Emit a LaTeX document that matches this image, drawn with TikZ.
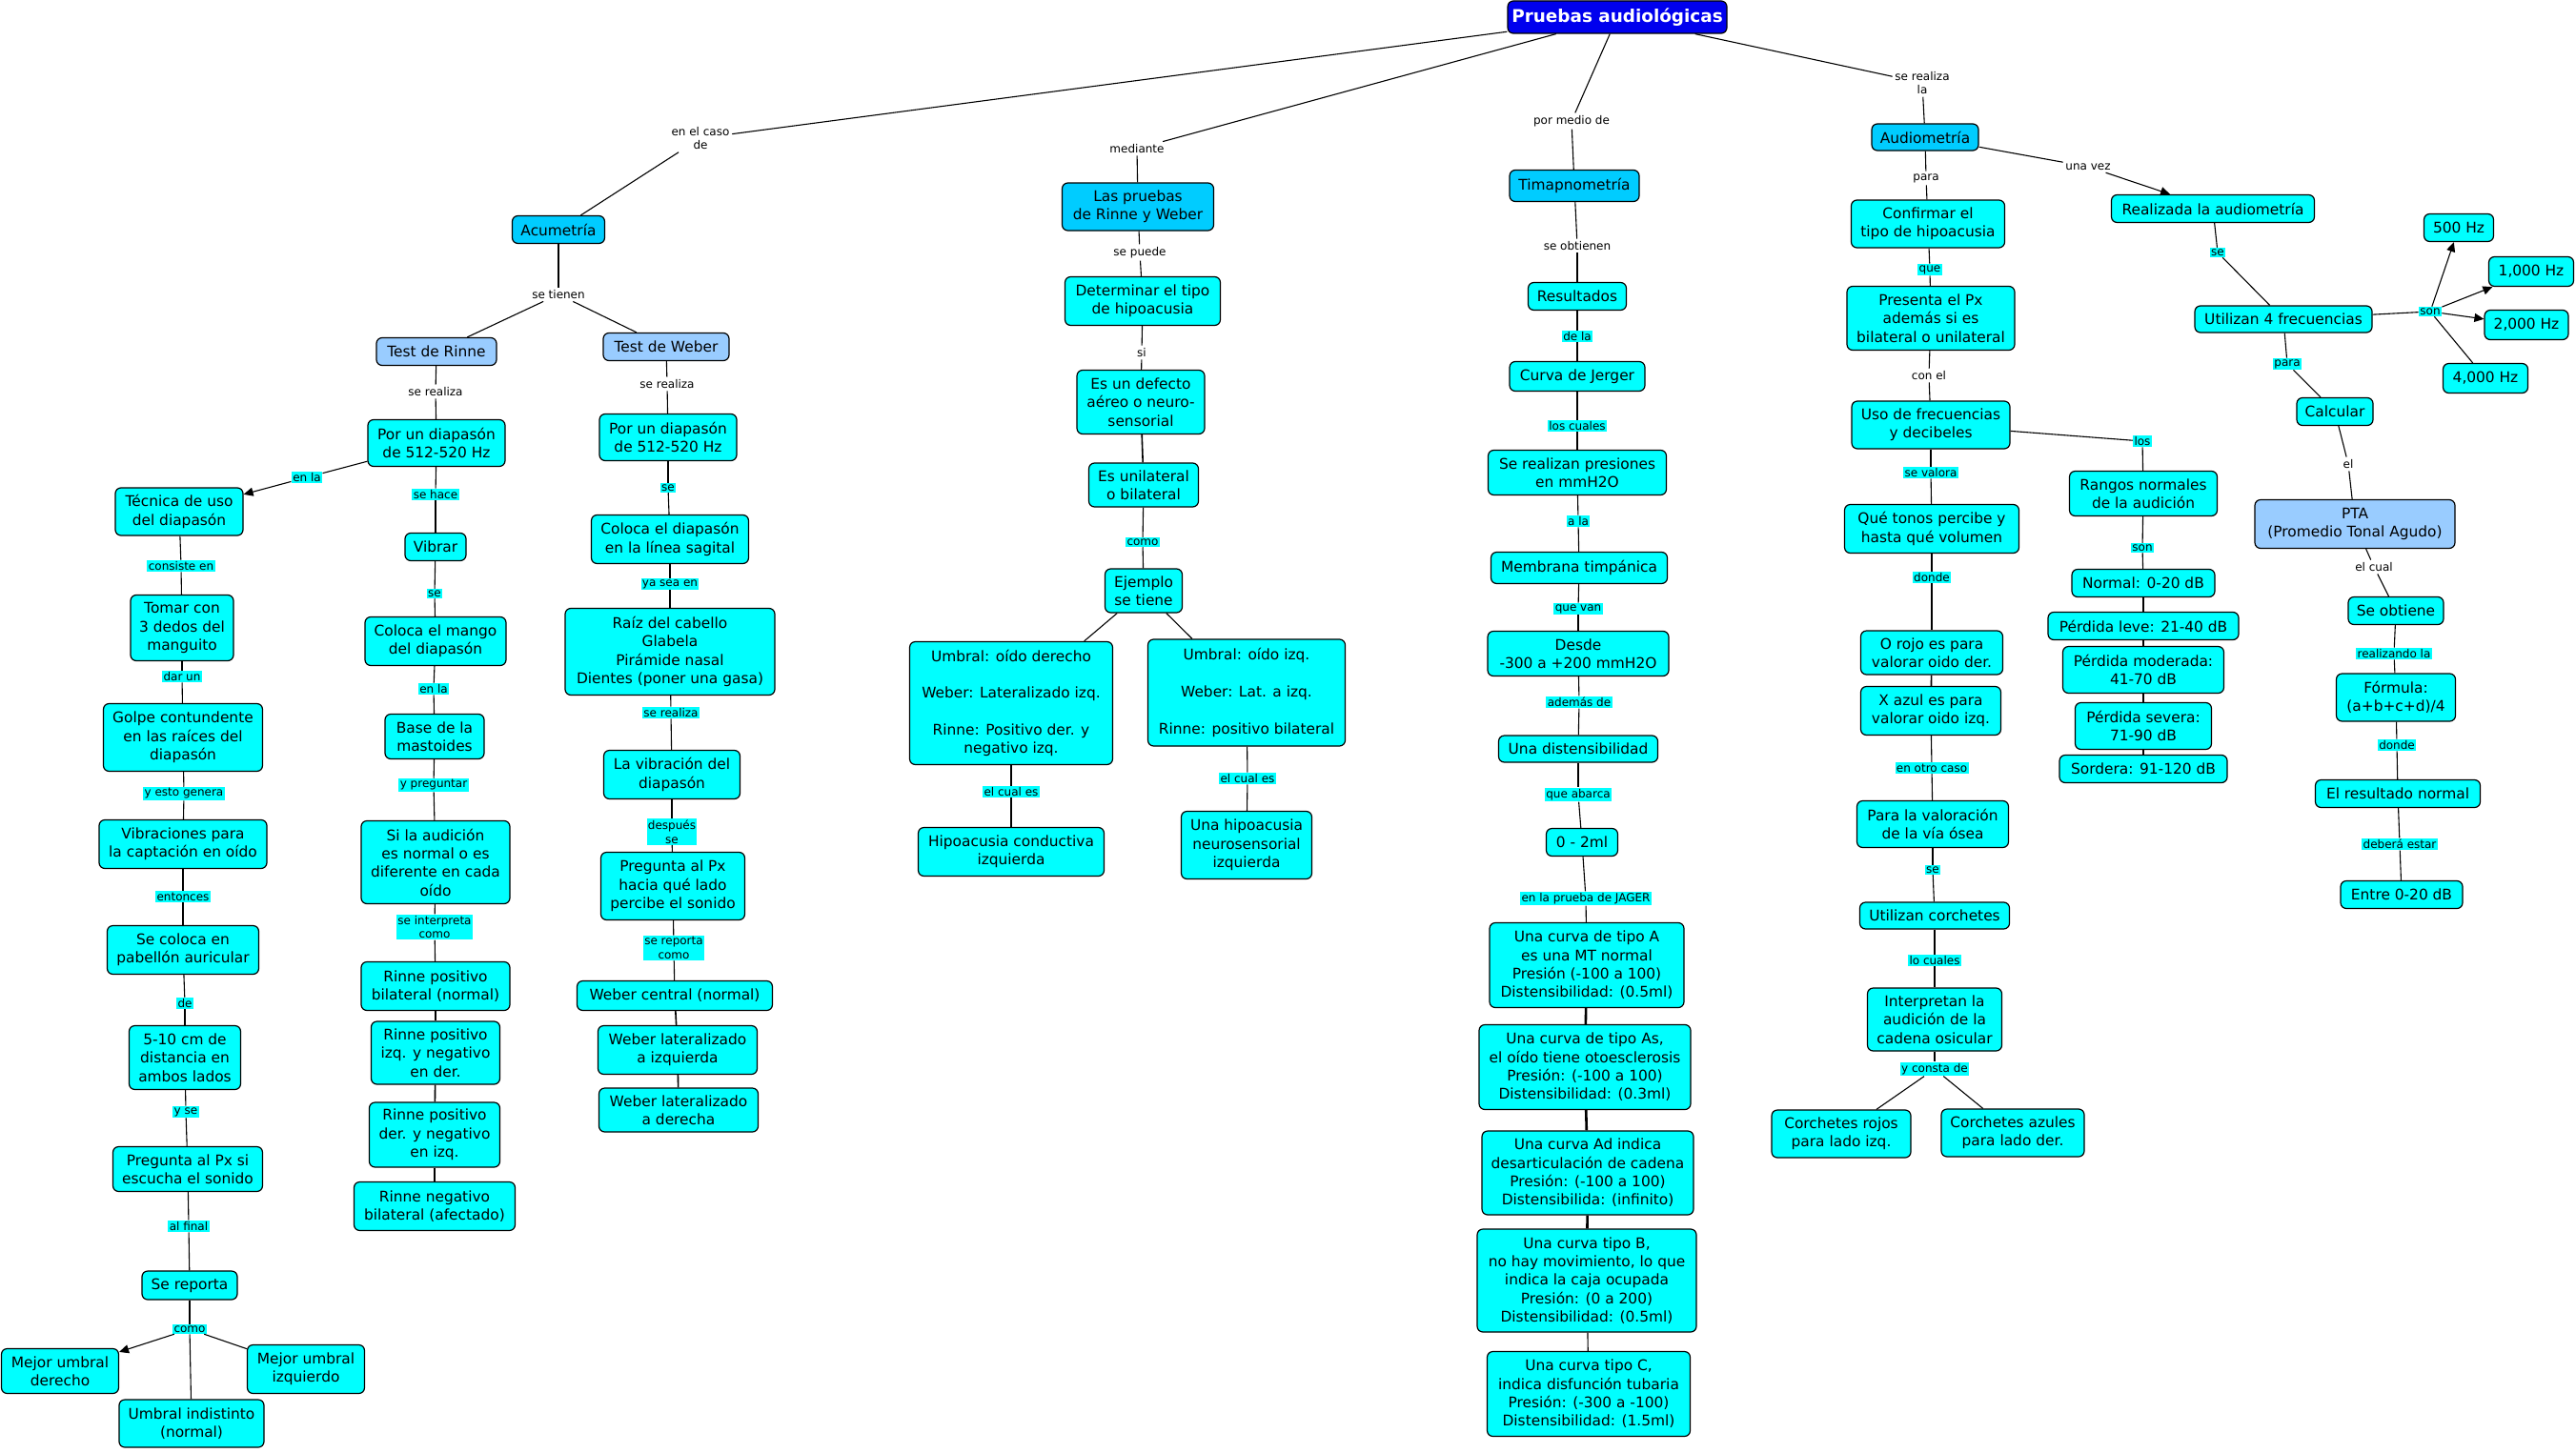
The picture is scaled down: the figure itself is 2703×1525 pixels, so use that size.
\documentclass[tikz,border=0pt]{standalone}
\usepackage{fontspec}
\setmainfont{DejaVu Sans}
\usetikzlibrary{arrows.meta}
\definecolor{cy}{HTML}{00FFFF}
\definecolor{midb}{HTML}{00CCFF}
\definecolor{lb}{HTML}{99CCFF}
\definecolor{topb}{HTML}{0000EE}
\newcommand\nfnt{\fontsize{7.7}{9.65}\selectfont}
\newcommand\lfnt{\fontsize{6}{7.3}\selectfont}
\newcommand\tfnt{\fontsize{9.2}{11}\selectfont}
\begin{document}
\begin{tikzpicture}[x=0.5pt,y=-0.5pt,
  cbox/.style={draw=black, line width=0.6pt, rounded corners=3pt, fill=cy, align=center, inner sep=0pt, font=\nfnt},
  sz/.style 2 args={minimum width=#1*0.5pt, minimum height=#2*0.5pt},
  midbox/.style={cbox, fill=midb},
  lbbox/.style={cbox, fill=lb},
  topbox/.style={cbox, fill=topb, text=white, font={\tfnt\bfseries}},
  lab/.style={font=\lfnt, align=center, inner sep=1.2pt, fill=white},
  hlab/.style={font=\lfnt, align=center, inner sep=0.7pt, fill=cy},
  conn/.style={line width=0.55pt},
  stk/.style={line width=0.8pt},
  thk/.style={line width=1.3pt},
  arr/.style={conn, -{Triangle[length=5pt,width=4.5pt]}}
]
\fill[white] (0,0) rectangle (2703,1525);
\useasboundingbox (0,0) rectangle (2703,1525);

% ---------- top ----------
\node[topbox,sz={230}{34}] (P) at (1697,18) {Pruebas audiológicas};
\node[lab] (l1) at (735,145) {en el caso\\de};
\node[lab] (l2) at (1193,156) {mediante};
\node[lab] (l3) at (1649,127) {por medio de};
\node[lab] (l4) at (2017,87) {se realiza\\la};

\node[midbox,sz={97}{29}] (Acu) at (586,241) {Acumetría};
\node[midbox,sz={159}{50}] (LRW) at (1194,217) {Las pruebas\\de Rinne y Weber};
\node[midbox,sz={136}{33}] (Tim) at (1652,195) {Timapnometría};
\node[midbox,sz={112}{28}] (Aud) at (2020,144) {Audiometría};

\draw[conn] (P) -- (l1); \draw[conn] (l1) -- (Acu);
\draw[conn] (P) -- (l2); \draw[conn] (l2) -- (LRW);
\draw[conn] (P) -- (l3); \draw[conn] (l3) -- (Tim);
\draw[conn] (P) -- (l4); \draw[conn] (l4) -- (Aud);

% ---------- Acumetria ----------
\node[lab] (lst) at (586,309) {se tienen};
\node[lbbox,sz={126}{29}] (TR) at (458,369) {Test de Rinne};
\node[lbbox,sz={132}{29}] (TW) at (699,364) {Test de Weber};
\draw[conn] (Acu) -- (lst); \draw[conn] (lst) -- (TR); \draw[conn] (lst) -- (TW);

\node[lab] (lsr1) at (457,411) {se realiza};
\node[cbox,sz={144}{49}] (R1) at (458,465) {Por un diapasón\\de 512-520 Hz};
\draw[conn] (TR) -- (lsr1); \draw[conn] (lsr1) -- (R1);

\node[lab] (lsr2) at (700,403) {se realiza};
\node[cbox,sz={144}{49}] (W1) at (701,459) {Por un diapasón\\de 512-520 Hz};
\draw[conn] (TW) -- (lsr2); \draw[conn] (lsr2) -- (W1);

% Rinne -> Tecnica
\node[hlab] (lenla) at (322,501) {en la};
\node[cbox,sz={134}{50}] (Tec) at (188,537) {Técnica de uso\\del diapasón};
\draw[conn] (R1) -- (lenla); \draw[arr] (lenla) -- (Tec);

\node[hlab] (lcons) at (190,594) {consiste en};
\node[cbox,sz={108}{69}] (Tom) at (191,659) {Tomar con\\3 dedos del\\manguito};
\draw[conn] (Tec) -- (lcons); \draw[conn] (lcons) -- (Tom);

\node[hlab] (ldar) at (191,710) {dar un};
\node[cbox,sz={167}{71}] (Gol) at (192,774) {Golpe contundente\\en las raíces del\\diapasón};
\draw[conn] (Tom) -- (ldar); \draw[conn] (ldar) -- (Gol);

\node[hlab] (lesto) at (193,833) {y esto genera};
\node[cbox,sz={176}{51}] (Vibr) at (192,886) {Vibraciones para\\la captación en oído};
\draw[conn] (Gol) -- (lesto); \draw[conn] (lesto) -- (Vibr);

\node[hlab] (lent) at (192,941) {entonces};
\node[cbox,sz={159}{51}] (SeC) at (192,997) {Se coloca en\\pabellón auricular};
\draw[conn] (Vibr) -- (lent); \draw[conn] (lent) -- (SeC);

\node[hlab] (lde) at (194,1053) {de};
\node[cbox,sz={117}{67}] (Cm) at (194,1110) {5-10 cm de\\distancia en\\ambos lados};
\draw[conn] (SeC) -- (lde); \draw[conn] (lde) -- (Cm);

\node[hlab] (lyse) at (195,1167) {y se};
\node[cbox,sz={157}{47}] (Preg) at (197,1227) {Pregunta al Px si\\escucha el sonido};
\draw[conn] (Cm) -- (lyse); \draw[conn] (lyse) -- (Preg);

\node[hlab] (lfin) at (198,1287) {al final};
\node[cbox,sz={100}{30}] (SeR) at (199,1349) {Se reporta};
\draw[conn] (Preg) -- (lfin); \draw[conn] (lfin) -- (SeR);

\node[hlab] (lcomo1) at (199,1395) {como};
\node[cbox,sz={123}{47}] (MUD) at (63,1439) {Mejor umbral\\derecho};
\node[cbox,sz={123}{51}] (MUI) at (321,1437) {Mejor umbral\\izquierdo};
\node[cbox,sz={152}{50}] (UIn) at (201,1494) {Umbral indistinto\\(normal)};
\draw[conn] (SeR) -- (lcomo1);
\draw[arr] (lcomo1) -- (MUD);
\draw[conn] (lcomo1) -- (MUI);
\draw[conn] (lcomo1) -- (UIn);

% Rinne -> Vibrar
\node[hlab] (lhace) at (457,519) {se hace};
\node[cbox,sz={64}{29}] (Vib) at (457,574) {Vibrar};
\draw[conn] (R1) -- (lhace); \draw[conn] (lhace) -- (Vib);

\node[hlab] (lse1) at (456,623) {se};
\node[cbox,sz={148}{51}] (CM) at (457,673) {Coloca el mango\\del diapasón};
\draw[conn] (Vib) -- (lse1); \draw[conn] (lse1) -- (CM);

\node[hlab] (lenla2) at (455,723) {en la};
\node[cbox,sz={104}{47}] (BM) at (456,773) {Base de la\\mastoides};
\draw[conn] (CM) -- (lenla2); \draw[conn] (lenla2) -- (BM);

\node[hlab] (lypreg) at (455,824) {y preguntar};
\node[cbox,sz={156}{87}] (SiA) at (457,905) {Si la audición\\es normal o es\\diferente en cada\\oído};
\draw[conn] (BM) -- (lypreg); \draw[conn] (lypreg) -- (SiA);

\node[hlab] (linterp) at (456,973) {se interpreta\\como};
\node[cbox,sz={156}{51}] (RP1) at (457,1035) {Rinne positivo\\bilateral (normal)};
\node[cbox,sz={135}{66}] (RP2) at (457,1105) {Rinne positivo\\izq. y negativo\\en der.};
\node[cbox,sz={137}{68}] (RP3) at (456,1191) {Rinne positivo\\der. y negativo\\en izq.};
\node[cbox,sz={169}{51}] (RP4) at (456,1266) {Rinne negativo\\bilateral (afectado)};
\draw[conn] (SiA) -- (linterp); \draw[conn] (linterp) -- (RP1);
\draw[stk] (RP1) -- (RP2); \draw[stk] (RP2) -- (RP3); \draw[stk] (RP3) -- (RP4);

% Weber
\node[hlab] (lse2) at (701,512) {se};
\node[cbox,sz={165}{51}] (CD) at (703,566) {Coloca el diapasón\\en la línea sagital};
\draw[conn] (W1) -- (lse2); \draw[conn] (lse2) -- (CD);

\node[hlab] (lyasea) at (703,613) {ya sea en};
\node[cbox,sz={220}{91}] (Raiz) at (703,684) {Raíz del cabello\\Glabela\\Pirámide nasal\\Dientes (poner una gasa)};
\draw[conn] (CD) -- (lyasea); \draw[conn] (lyasea) -- (Raiz);

\node[hlab] (lsr3) at (704,748) {se realiza};
\node[cbox,sz={143}{51}] (LV) at (705,813) {La vibración del\\diapasón};
\draw[conn] (Raiz) -- (lsr3); \draw[conn] (lsr3) -- (LV);

\node[hlab] (ldesp) at (705,873) {después\\se};
\node[cbox,sz={151}{71}] (PH) at (706,930) {Pregunta al Px\\hacia qué lado\\percibe el sonido};
\draw[conn] (LV) -- (ldesp); \draw[conn] (ldesp) -- (PH);

\node[hlab] (lrep) at (707,995) {se reporta\\como};
\node[cbox,sz={205}{31}] (WC) at (708,1045) {Weber central (normal)};
\node[cbox,sz={167}{51}] (WLI) at (711,1102) {Weber lateralizado\\a izquierda};
\node[cbox,sz={167}{46}] (WLD) at (712,1165) {Weber lateralizado\\a derecha};
\draw[conn] (PH) -- (lrep); \draw[conn] (lrep) -- (WC);
\draw[stk] (WC) -- (WLI); \draw[stk] (WLI) -- (WLD);

% ---------- Las pruebas de Rinne y Weber ----------
\node[lab] (lpuede) at (1196,265) {se puede};
\node[cbox,sz={163}{51}] (Det) at (1199,316) {Determinar el tipo\\de hipoacusia};
\draw[conn] (LRW) -- (lpuede); \draw[conn] (lpuede) -- (Det);

\node[lab] (lsi) at (1198,370) {si};
\node[cbox,sz={134}{67}] (Def) at (1197,422) {Es un defecto\\aéreo o neuro-\\sensorial};
\draw[conn] (Det) -- (lsi); \draw[conn] (lsi) -- (Def);

\node[cbox,sz={115}{46}] (Uni) at (1200,509) {Es unilateral\\o bilateral};
\draw[stk] (Def) -- (Uni);

\node[hlab] (lcomo2) at (1199,569) {como};
\node[cbox,sz={81}{46}] (Ej) at (1200,620) {Ejemplo\\se tiene};
\draw[conn] (Uni) -- (lcomo2); \draw[conn] (lcomo2) -- (Ej);

\node[cbox,sz={213}{129}] (UD) at (1061,738) {Umbral: oído derecho\\[9.65pt]Weber: Lateralizado izq.\\[9.65pt]Rinne: Positivo der. y\\negativo izq.};
\node[cbox,sz={207}{112}] (UIz) at (1308,727) {Umbral: oído izq.\\[9.65pt]Weber: Lat. a izq.\\[9.65pt]Rinne: positivo bilateral};
\draw[conn] (Ej) -- (UD); \draw[conn] (Ej) -- (UIz);

\node[hlab] (lcual1) at (1061,831) {el cual es};
\node[cbox,sz={195}{51}] (HC) at (1061,894) {Hipoacusia conductiva\\izquierda};
\draw[conn] (UD) -- (lcual1); \draw[conn] (lcual1) -- (HC);

\node[hlab] (lcual2) at (1309,817) {el cual es};
\node[cbox,sz={137}{71}] (HN) at (1308,887) {Una hipoacusia\\neurosensorial\\izquierda};
\draw[conn] (UIz) -- (lcual2); \draw[conn] (lcual2) -- (HN);

% ---------- Timpanometria ----------
\node[lab] (lobt) at (1655,258) {se obtienen};
\node[cbox,sz={103}{29}] (Res) at (1655,311) {Resultados};
\draw[conn] (Tim) -- (lobt); \draw[conn] (lobt) -- (Res);

\node[hlab] (ldela) at (1655,353) {de la};
\node[cbox,sz={142}{31}] (CJ) at (1655,395) {Curva de Jerger};
\draw[conn] (Res) -- (ldela); \draw[conn] (ldela) -- (CJ);

\node[hlab] (lcuales) at (1655,447) {los cuales};
\node[cbox,sz={187}{47}] (SRP) at (1655,496) {Se realizan presiones\\en mmH2O};
\draw[conn] (CJ) -- (lcuales); \draw[conn] (lcuales) -- (SRP);

\node[hlab] (lala) at (1656,547) {a la};
\node[cbox,sz={185}{33}] (MT) at (1657,596) {Membrana timpánica};
\draw[conn] (SRP) -- (lala); \draw[conn] (lala) -- (MT);

\node[hlab] (lqvan) at (1656,639) {que van};
\node[cbox,sz={190}{47}] (Des) at (1656,686) {Desde\\-300 a +200 mmH2O};
\draw[conn] (MT) -- (lqvan); \draw[conn] (lqvan) -- (Des);

\node[hlab] (lade) at (1657,737) {además de};
\node[cbox,sz={167}{28}] (UDi) at (1656,786) {Una distensibilidad};
\draw[conn] (Des) -- (lade); \draw[conn] (lade) -- (UDi);

\node[hlab] (labar) at (1656,834) {que abarca};
\node[cbox,sz={75}{29}] (Ml) at (1660,884) {0 - 2ml};
\draw[conn] (UDi) -- (labar); \draw[conn] (labar) -- (Ml);

\node[hlab] (ljag) at (1664,943) {en la prueba de JAGER};
\node[cbox,sz={204}{89}] (CA) at (1665,1013) {Una curva de tipo A\\es una MT normal\\Presión (-100 a 100)\\Distensibilidad: (0.5ml)};
\node[cbox,sz={222}{89}] (CAs) at (1663,1120) {Una curva de tipo As,\\el oído tiene otoesclerosis\\Presión: (-100 a 100)\\Distensibilidad: (0.3ml)};
\node[cbox,sz={222}{88}] (CAd) at (1666,1231) {Una curva Ad indica\\desarticulación de cadena\\Presión: (-100 a 100)\\Distensibilida: (infinito)};
\node[cbox,sz={230}{108}] (CB) at (1665,1344) {Una curva tipo B,\\no hay movimiento, lo que\\indica la caja ocupada\\Presión: (0 a 200)\\Distensibilidad: (0.5ml)};
\node[cbox,sz={213}{89}] (CC) at (1667,1463) {Una curva tipo C,\\indica disfunción tubaria\\Presión: (-300 a -100)\\Distensibilidad: (1.5ml)};
\draw[conn] (Ml) -- (ljag); \draw[conn] (ljag) -- (CA);
\draw[thk] (CA) -- (CAs); \draw[thk] (CAs) -- (CAd); \draw[thk] (CAd) -- (CB);
\draw[conn] (CB) -- (CC);

% ---------- Audiometria ----------
\node[lab] (lpara1) at (2021,187) {para};
\node[cbox,sz={161}{50}] (Conf) at (2023,235) {Confirmar el\\tipo de hipoacusia};
\draw[conn] (Aud) -- (lpara1); \draw[conn] (lpara1) -- (Conf);

\node[hlab] (lque) at (2025,283) {que};
\node[cbox,sz={176}{67}] (PEP) at (2026,334) {Presenta el Px\\además si es\\bilateral o unilateral};
\draw[conn] (Conf) -- (lque); \draw[conn] (lque) -- (PEP);

\node[lab] (lconel) at (2024,394) {con el};
\node[cbox,sz={166}{50}] (Uso) at (2026,446) {Uso de frecuencias\\y decibeles};
\draw[conn] (PEP) -- (lconel); \draw[conn] (lconel) -- (Uso);

\node[hlab] (lvalora) at (2026,496) {se valora};
\node[cbox,sz={183}{51}] (QT) at (2027,555) {Qué tonos percibe y\\hasta qué volumen};
\draw[conn] (Uso) -- (lvalora); \draw[conn] (lvalora) -- (QT);

\node[hlab] (ldonde1) at (2027,606) {donde};
\node[cbox,sz={149}{46}] (OR) at (2027,685) {O rojo es para\\valorar oido der.};
\node[cbox,sz={147}{51}] (XA) at (2026,746) {X azul es para\\valorar oido izq.};
\draw[conn] (QT) -- (ldonde1); \draw[conn] (ldonde1) -- (OR);
\draw[stk] (OR) -- (XA);

\node[hlab] (lotro) at (2027,806) {en otro caso};
\node[cbox,sz={159}{49}] (PV) at (2028,865) {Para la valoración\\de la vía ósea};
\draw[conn] (XA) -- (lotro); \draw[conn] (lotro) -- (PV);

\node[hlab] (lse3) at (2028,913) {se};
\node[cbox,sz={157}{28}] (UC) at (2030,961) {Utilizan corchetes};
\draw[conn] (PV) -- (lse3); \draw[conn] (lse3) -- (UC);

\node[hlab] (llocu) at (2030,1008) {lo cuales};
\node[cbox,sz={141}{66}] (IA) at (2030,1070) {Interpretan la\\audición de la\\cadena osicular};
\draw[conn] (UC) -- (llocu); \draw[conn] (llocu) -- (IA);

\node[hlab] (lconsta) at (2030,1122) {y consta de};
\node[cbox,sz={146}{50}] (CR) at (1932,1190) {Corchetes rojos\\para lado izq.};
\node[cbox,sz={150}{50}] (CAz) at (2112,1189) {Corchetes azules\\para lado der.};
\draw[conn] (IA) -- (lconsta); \draw[conn] (lconsta) -- (CR); \draw[conn] (lconsta) -- (CAz);

% Rangos
\node[hlab] (llos) at (2248,463) {los};
\node[cbox,sz={155}{47}] (Ran) at (2249,518) {Rangos normales\\de la audición};
\draw[conn] (Uso) -- (llos); \draw[conn] (llos) -- (Ran);

\node[hlab] (lson1) at (2248,575) {son};
\node[cbox,sz={150}{29}] (Nor) at (2249,612) {Normal: 0-20 dB};
\node[cbox,sz={200}{29}] (PL) at (2249,657) {Pérdida leve: 21-40 dB};
\node[cbox,sz={169}{49}] (PM) at (2249,703) {Pérdida moderada:\\41-70 dB};
\node[cbox,sz={143}{49}] (PS) at (2249,762) {Pérdida severa:\\71-90 dB};
\node[cbox,sz={176}{29}] (So) at (2249,807) {Sordera: 91-120 dB};
\draw[conn] (Ran) -- (lson1); \draw[conn] (lson1) -- (Nor);
\draw[stk] (Nor) -- (PL); \draw[stk] (PL) -- (PM); \draw[stk] (PM) -- (PS); \draw[stk] (PS) -- (So);

% Realizada la audiometria
\node[lab] (lvez) at (2191,175) {una vez};
\node[cbox,sz={213}{29}] (Real) at (2322,219) {Realizada la audiometría};
\draw[conn] (Aud) -- (lvez); \draw[arr] (lvez) -- (Real);

\node[hlab] (lse4) at (2327,265) {se};
\node[cbox,sz={186}{28}] (U4) at (2396,335) {Utilizan 4 frecuencias};
\draw[conn] (Real) -- (lse4); \draw[conn] (lse4) -- (U4);

\node[hlab] (lson2) at (2550,327) {son};
\node[cbox,sz={73}{29}] (F500) at (2580,239) {500 Hz};
\node[cbox,sz={89}{31}] (F1000) at (2656,285) {1,000 Hz};
\node[cbox,sz={88}{31}] (F2000) at (2651,341) {2,000 Hz};
\node[cbox,sz={89}{31}] (F4000) at (2608,397) {4,000 Hz};
\draw[conn] (U4) -- (lson2);
\draw[arr] (lson2) -- (F500);
\draw[arr] (lson2) -- (F1000);
\draw[arr] (lson2) -- (F2000);
\draw[conn] (lson2) -- (F4000);

\node[hlab] (lpara2) at (2400,382) {para};
\node[cbox,sz={80}{29}] (Cal) at (2450,432) {Calcular};
\draw[conn] (U4) -- (lpara2); \draw[conn] (lpara2) -- (Cal);

\node[lab] (lel) at (2464,487) {el};
\node[lbbox,sz={210}{51}] (PTA) at (2471,550) {PTA\\(Promedio Tonal Agudo)};
\draw[conn] (Cal) -- (lel); \draw[conn] (lel) -- (PTA);

\node[lab] (lelcual) at (2491,595) {el cual};
\node[cbox,sz={100}{29}] (SO) at (2514,641) {Se obtiene};
\draw[conn] (PTA) -- (lelcual); \draw[conn] (lelcual) -- (SO);

\node[hlab] (lreal) at (2512,686) {realizando la};
\node[cbox,sz={125}{50}] (For) at (2514,732) {Fórmula:\\(a+b+c+d)/4};
\draw[conn] (SO) -- (lreal); \draw[conn] (lreal) -- (For);

\node[hlab] (ldonde2) at (2515,782) {donde};
\node[cbox,sz={173}{29}] (ERN) at (2516,833) {El resultado normal};
\draw[conn] (For) -- (ldonde2); \draw[conn] (ldonde2) -- (ERN);

\node[hlab] (ldeb) at (2518,886) {deberá estar};
\node[cbox,sz={128}{29}] (Ent) at (2520,939) {Entre 0-20 dB};
\draw[conn] (ERN) -- (ldeb); \draw[conn] (ldeb) -- (Ent);
\end{tikzpicture}
\end{document}
